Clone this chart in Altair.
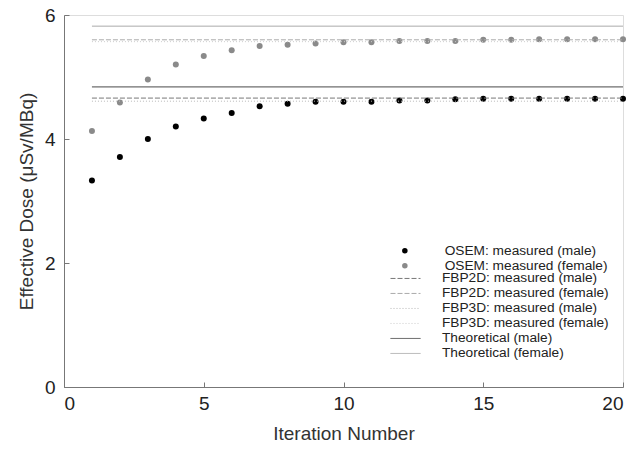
import altair as alt
import pandas as pd

iterations = list(range(1, 21))
osem_male = [3.33, 3.71, 4.00, 4.20, 4.33, 4.42, 4.53, 4.57, 4.60, 4.60,
             4.60, 4.62, 4.62, 4.64, 4.65, 4.65, 4.65, 4.65, 4.65, 4.65]
osem_female = [4.13, 4.59, 4.96, 5.20, 5.34, 5.43, 5.50, 5.52, 5.54, 5.56,
               5.56, 5.58, 5.58, 5.58, 5.60, 5.60, 5.61, 5.61, 5.61, 5.61]

point_series = ["OSEM: measured (male)", "OSEM: measured (female)"]
point_colors = ["#000000", "#8a8a8a"]

line_series = ["FBP2D: measured (male)", "FBP2D: measured (female)",
               "FBP3D: measured (male)", "FBP3D: measured (female)",
               "Theoretical (male)", "Theoretical (female)"]
line_values = [4.66, 5.60, 4.61, 5.57, 4.84, 5.82]
line_colors = ["#777777", "#aaaaaa", "#b8b8b8", "#cccccc", "#444444", "#a8a8a8"]
line_dashes = [[5, 2], [5, 2], [1, 2], [1, 2], [1, 0], [1, 0]]
line_widths = [1, 1, 1, 1, 2, 1.6]
line_start = 1
line_end = 20

pts = pd.DataFrame({
    "iter": iterations * 2,
    "value": osem_male + osem_female,
    "series": [point_series[0]] * 20 + [point_series[1]] * 20,
})
lines = pd.DataFrame({
    "series": line_series,
    "value": line_values,
    "start": [line_start] * 6,
    "end": [line_end] * 6,
})

legend_common = dict(title=None, orient="none", labelFontSize=13.7, labelFont="Liberation Sans",
                     labelColor="#222222", labelLimit=400, clipHeight=13.7, rowPadding=0,
                     padding=0)

xscale = alt.Scale(domain=[0, 20], nice=False, zero=False)
yscale = alt.Scale(domain=[0, 6], nice=False)

axis_common = dict(labelFont="Liberation Sans", titleFont="Liberation Sans",
                   labelFontSize=19, titleFontSize=19, labelColor="#222222",
                   titleColor="#333333", titleFontWeight="normal",
                   domainColor="#777777", grid=False)

points = alt.Chart(pts).mark_circle(size=36, opacity=1).encode(
    x=alt.X("iter:Q", scale=xscale,
            axis=alt.Axis(orient="bottom", title="Iteration Number", values=[0, 5, 10, 15, 20],
                          ticks=False, labelPadding=7, titlePadding=11, **axis_common)),
    y=alt.Y("value:Q", scale=yscale,
            axis=alt.Axis(orient="left", title="Effective Dose (μSv/MBq)", values=[0, 2, 4, 6],
                          ticks=False, labelPadding=9, titlePadding=8, **axis_common)),
    color=alt.Color("series:N", scale=alt.Scale(domain=point_series, range=point_colors),
                    legend=alt.Legend(legendX=334, legendY=229, symbolType="circle",
                                      symbolSize=30, labelOffset=33, symbolOpacity=1,
                                      **legend_common)),
)

line_legend = alt.Legend(legendX=326, legendY=256.6, symbolType="stroke",
                         symbolSize=900, labelOffset=21, **legend_common)

rules = alt.Chart(lines).mark_rule().encode(
    x=alt.X("start:Q", scale=xscale,
            axis=alt.Axis(orient="top", offset=-372, labels=False, domain=False, ticks=True,
                          tickSize=5, tickColor="#777777", title=None, grid=False,
                          values=[0, 5, 10, 15, 20])),
    x2="end:Q",
    y=alt.Y("value:Q", scale=yscale,
            axis=alt.Axis(orient="right", offset=-559, labels=False, domain=False, ticks=True,
                          tickSize=5, tickColor="#777777", title=None, grid=False,
                          values=[0, 2, 4, 6])),
    color=alt.Color("series:N", scale=alt.Scale(domain=line_series, range=line_colors),
                    legend=line_legend),
    strokeDash=alt.StrokeDash("series:N", scale=alt.Scale(domain=line_series, range=line_dashes),
                              legend=line_legend),
    strokeWidth=alt.StrokeWidth("series:N", scale=alt.Scale(domain=line_series, range=line_widths),
                                legend=line_legend),
)

chart = alt.layer(points, rules).resolve_axis(
    x="independent", y="independent"
).resolve_scale(color="independent").resolve_legend(
    color="independent", strokeDash="independent", strokeWidth="independent"
).properties(
    width=559, height=372,
    autosize=alt.AutoSizeParams(type="none"),
    padding={"left": 56, "top": 7, "right": 5, "bottom": 63},
).configure_view(stroke=None).configure(background="white")

chart.save("out.html", embed_options={"renderer": "svg", "actions": False})
